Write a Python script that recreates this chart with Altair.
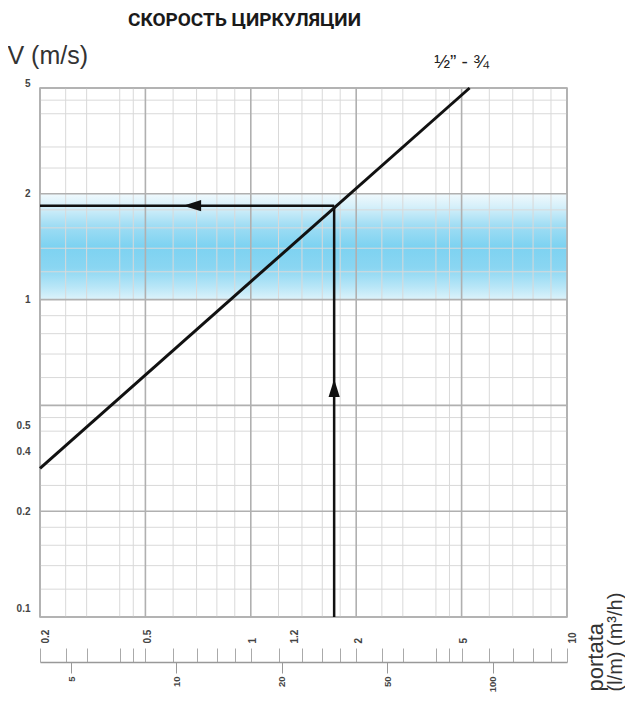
import altair as alt
import pandas as pd

# ---------------- values ----------------
x_major = [0.2, 0.5, 1, 2, 5, 10]            # flow m³/h, main grid lines
x_minor = [0.25, 0.3, 0.4, 0.45, 0.6, 0.7, 0.8, 0.9, 1.2, 1.4, 1.6, 1.8,
           2.5, 3, 4, 4.5, 6, 7, 8, 9]         # secondary grid lines
x_labels = [0.2, 0.5, 1, 1.2, 2, 5, 10]
y_major = [0.1, 0.2, 0.5, 1, 2, 5]             # velocity m/s, main grid lines
y_minor = [0.12, 0.14, 0.16, 0.18, 0.25, 0.3, 0.4, 0.45, 0.6, 0.7, 0.8, 0.9,
           1.2, 1.4, 1.6, 1.8, 2.5, 3, 4, 4.5]
y_labels = [0.1, 0.2, 0.4, 0.5, 1, 2, 5]
lpm_labels = [5, 10, 20, 50, 100]              # flow l/m

curve_q = [0.2, 5.27]
curve_v = [0.29, 5.0]
series_name = "½” - ¾"
series_label_q = 5
series_label_v = 5

op_q = 1.73          # reading example: flow
op_v = 1.85          # reading example: velocity
band_v = [1, 2]      # recommended velocity band
arrow_left_q = 0.68
arrow_up_v = 0.56

title_text = "СКОРОСТЬ ЦИРКУЛЯЦИИ"

# ---------------- layout / style ----------------
W, H = 527, 529
AX = 45              # distance from plot bottom to the flow scales' line
FONT = "Liberation Sans"

xs = alt.Scale(type="log", domain=x_major, range=[W * i / 5 for i in range(6)], nice=False)
ys = alt.Scale(type="log", domain=y_major, range=[H - H * i / 5 for i in range(6)], nice=False)
ls = alt.Scale(type="log", domain=lpm_labels, range=[31 + W * i / 5 for i in range(5)], nice=False)

x_axis = alt.Axis(
    orient="top", offset=-(H + AX),
    values=sorted(set(x_major + x_minor + x_labels)), format="~g",
    labelExpr=f"indexof({x_labels}, datum.value) >= 0 ? datum.label : ''",
    labelOffset={"expr": "datum.value == 1.2 ? 16 : (datum.value == 0.2 || datum.value == 10 ? 5 : 2)"},
    domainColor="#999999", domainWidth=1.5, tickColor="#aaaaaa", tickSize=14, tickWidth=1,
    labelAngle=270, labelAlign="left", labelBaseline="middle", labelPadding=5,
    labelFont=FONT, labelFontSize=10, labelFontWeight="bold", labelColor="#444444",
    labelOverlap=False, labelFlush=False, grid=False,
    title="portata", titleAngle=270, titleAlign="left", titleBaseline="alphabetic",
    titleX=562, titleY=29, titleFont=FONT, titleFontSize=22, titleFontWeight="normal",
    titleColor="#333333",
)
y_axis = alt.Axis(
    orient="left", values=y_labels, format="~g", ticks=False, tickSize=0, domain=False,
    grid=False, labelPadding=10, labelFont=FONT, labelFontSize=10, labelFontWeight="bold",
    labelColor="#444444", labelOverlap=False, labelFlush=False,
    labelOffset={"expr": "(datum.value == 0.5 || datum.value == 0.4) ? 20 : (datum.value == 5 ? -5 : (datum.value == 0.1 ? -9 : 0))"},
    title="V (m/s)", titleAngle=0, titleAlign="left", titleBaseline="alphabetic",
    titleX=-33, titleY=-25, titleFont=FONT, titleFontSize=25, titleFontWeight="normal",
    titleColor="#333333",
)
lpm_axis = alt.Axis(
    orient="bottom", offset=AX, values=lpm_labels, format="~g", domain=False,
    tickColor="#999999", tickSize=11, tickWidth=1, grid=False,
    labelAngle=270, labelAlign="right", labelBaseline="middle", labelPadding=3,
    labelFont=FONT, labelFontSize=9.5, labelFontWeight="bold", labelColor="#444444",
    labelOverlap=False, labelFlush=False,
    title="(l/m) (m³/h)", titleAngle=270, titleAlign="left", titleBaseline="alphabetic",
    titleX=581, titleY=29, titleFont=FONT, titleFontSize=20, titleFontWeight="normal",
    titleColor="#333333",
)


def X(field):
    return alt.X(field, scale=xs, axis=x_axis)


def Y(field):
    return alt.Y(field, scale=ys, axis=y_axis)


grad = alt.Gradient(
    gradient="linear", x1=0, x2=0, y1=0, y2=1,
    stops=[
        alt.GradientStop(color="#f0f9fd", offset=0),
        alt.GradientStop(color="#d6f0fa", offset=0.12),
        alt.GradientStop(color="#a0ddf4", offset=0.3),
        alt.GradientStop(color="#7dd2f1", offset=0.5),
        alt.GradientStop(color="#8ad6f2", offset=0.7),
        alt.GradientStop(color="#b8e6f7", offset=0.88),
        alt.GradientStop(color="#ddf3fb", offset=1),
    ],
)

band = alt.Chart(pd.DataFrame({
    "q0": [x_major[0]], "q1": [x_major[-1]], "v0": [band_v[0]], "v1": [band_v[1]]
})).mark_rect(fill=grad).encode(x=X("q0:Q"), x2="q1", y=Y("v0:Q"), y2="v1")

vminor = alt.Chart(pd.DataFrame({"q": x_minor})).mark_rule(
    color="#d9d9d9", strokeWidth=1).encode(x=X("q:Q"))
hminor = alt.Chart(pd.DataFrame({"v": y_minor})).mark_rule(
    color="#d9d9d9", strokeWidth=1).encode(y=Y("v:Q"))
vmajor = alt.Chart(pd.DataFrame({"q": x_major})).mark_rule(
    color="#b0b0b0", strokeWidth=1.6).encode(x=X("q:Q"))
hmajor = alt.Chart(pd.DataFrame({"v": y_major})).mark_rule(
    color="#b0b0b0", strokeWidth=1.6).encode(y=Y("v:Q"))

curve = alt.Chart(pd.DataFrame({"q": curve_q, "v": curve_v})).mark_line(
    color="#111111", strokeWidth=3).encode(x=X("q:Q"), y=Y("v:Q"))

hline = alt.Chart(pd.DataFrame({"q0": [x_major[0]], "q1": [op_q], "v": [op_v]})).mark_rule(
    color="#111111", strokeWidth=2.5).encode(x=X("q0:Q"), x2="q1", y=Y("v:Q"))
vline = alt.Chart(pd.DataFrame({"q": [op_q], "v0": [y_major[0]], "v1": [op_v]})).mark_rule(
    color="#111111", strokeWidth=2.5).encode(x=X("q:Q"), y=Y("v0:Q"), y2="v1")

arrow_l = alt.Chart(pd.DataFrame({"q": [arrow_left_q], "v": [op_v]})).mark_point(
    shape="M -1 0 L 1 -0.62 L 1 0.62 Z", size=324, filled=True, color="#111111", opacity=1).encode(
    x=X("q:Q"), y=Y("v:Q"))
arrow_u = alt.Chart(pd.DataFrame({"q": [op_q], "v": [arrow_up_v]})).mark_point(
    shape="M 0 -1 L -0.62 1 L 0.62 1 Z", size=324, filled=True, color="#111111", opacity=1).encode(
    x=X("q:Q"), y=Y("v:Q"))

series_txt = alt.Chart(pd.DataFrame({"q": [series_label_q], "v": [series_label_v], "t": [series_name]})).mark_text(
    dy=-26, font=FONT, fontSize=19, color="#222222").encode(
    x=X("q:Q"), y=Y("v:Q"), text="t:N")

main = alt.layer(band, vminor, hminor, vmajor, hmajor, curve, hline, vline, arrow_l, arrow_u, series_txt)

lpm = alt.Chart(pd.DataFrame({"l": lpm_labels})).mark_point(opacity=0).encode(
    x=alt.X("l:Q", scale=ls, axis=lpm_axis), y=alt.value(0))

chart = alt.layer(main, lpm).resolve_scale(x="independent").properties(
    width=W, height=H,
    title=alt.TitleParams(title_text, anchor="start", frame="group", dx=88, dy=5, offset=3,
                          baseline="alphabetic", font="Roboto", fontSize=19,
                          fontWeight="bold", color="#1a1a1a"),
    autosize=alt.AutoSizeParams(type="none"),
    padding={"left": 32, "top": 80, "right": 58, "bottom": 75},
    background="white",
).configure_view(stroke="#a8a8a8", strokeWidth=1.5)

chart.save("out.html", embed_options={"renderer": "svg", "actions": False})
